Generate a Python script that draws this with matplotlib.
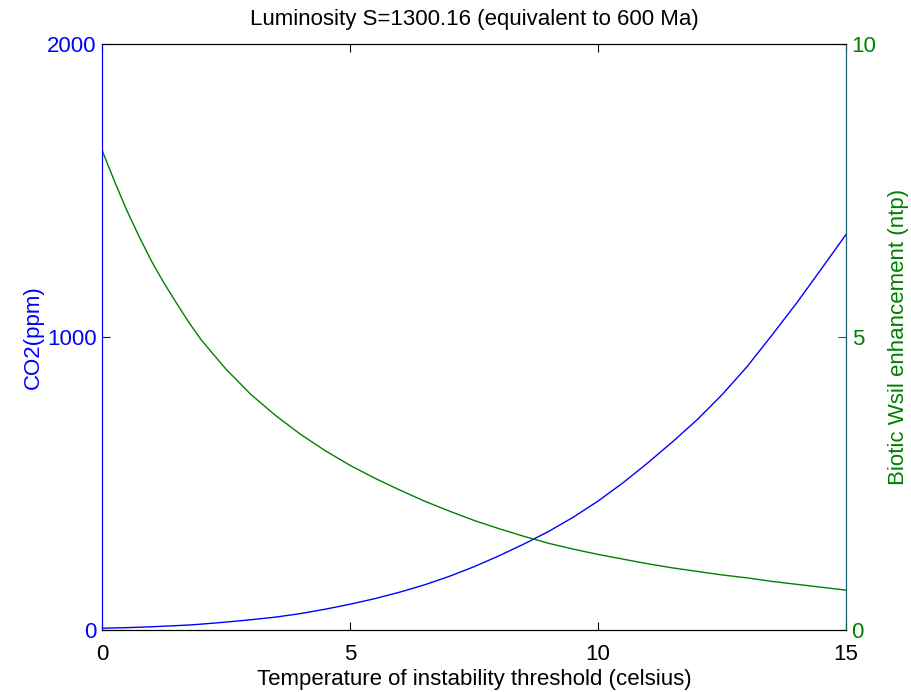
import numpy as np
import matplotlib.pyplot as plt

plt.rcParams['font.family'] = ['Liberation Sans', 'DejaVu Sans']

# threshold temperature (celsius)
temp = [0, 0.25, 0.5, 0.75, 1, 1.25, 1.5, 1.75, 2, 2.5, 3, 3.5, 4, 4.5, 5, 5.5,
        6, 6.5, 7, 7.5, 8, 8.5, 9, 9.5, 10, 10.5, 11, 11.5, 12, 12.5, 13,
        13.5, 14, 14.5, 15]

# CO2 (ppm), left axis
co2 = [6, 7, 8, 9.5, 11, 13, 15, 17, 20, 27, 35, 44, 56, 71, 88, 107,
       129, 154, 183, 216, 253, 293, 336, 385, 440, 502, 570, 642, 718, 803, 898,
       1005, 1115, 1232, 1350]

# biotic weathering enhancement, right axis
wsil = [8.19, 7.66, 7.16, 6.71, 6.29, 5.92, 5.58, 5.25, 4.95, 4.45, 4.02, 3.66,
        3.34, 3.06, 2.81, 2.59, 2.39, 2.20, 2.03, 1.87, 1.73, 1.60, 1.48, 1.38,
        1.29, 1.21, 1.13, 1.06, 1.00, 0.94, 0.89, 0.83, 0.78, 0.73, 0.68]

xticks = [0, 5, 10, 15]
left_ticks = [0, 1000, 2000]
right_ticks = [0, 5, 10]

blue = '#0000ff'
green = '#008000'
fs = 16

fig = plt.figure(figsize=(9.11, 6.92), dpi=100)
ax = fig.add_axes([0.112, 0.0896, 0.8167, 0.8468])
ax2 = ax.twinx()

ax.plot(temp, co2, color=blue, lw=1)
ax2.plot(temp, wsil, color=green, lw=1)

ax.set_xlim(0, 15)
ax.set_ylim(0, 2000)
ax2.set_ylim(0, 10)
ax.set_xticks(xticks)
ax.set_yticks(left_ticks)
ax2.set_yticks(right_ticks)

ax.tick_params(axis='x', direction='in', top=True, labelsize=fs, length=6, pad=10)
ax.tick_params(axis='y', direction='in', colors=blue, labelsize=fs, length=6, pad=4)
ax2.tick_params(axis='y', direction='in', colors=green, labelsize=fs, length=6, pad=4)

for a in (ax, ax2):
    a.spines['left'].set_color(blue)
    a.spines['right'].set_color('#1a5c6e')

ax.set_xlabel('Temperature of instability threshold (celsius)', fontsize=fs, labelpad=3)
ax.set_ylabel('CO2(ppm)', color=blue, fontsize=fs, labelpad=2)
ax2.set_ylabel('Biotic Wsil enhancement (ntp)', color=green, fontsize=fs, labelpad=8)
ax.set_title('Luminosity S=1300.16 (equivalent to 600 Ma)', fontsize=fs, pad=14)

fig.savefig('out.png', dpi=100)
